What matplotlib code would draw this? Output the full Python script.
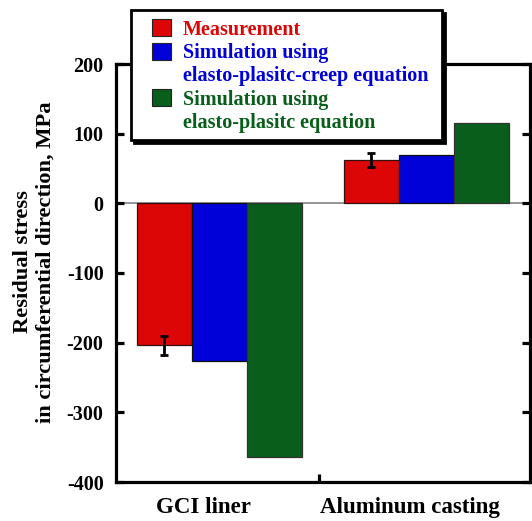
import numpy as np
import matplotlib
matplotlib.use("Agg")
import matplotlib.pyplot as plt
import matplotlib.patches as mpatches

plt.rcParams['font.family'] = ['Liberation Serif', 'DejaVu Serif']
plt.rcParams['font.weight'] = 'bold'
plt.rcParams['axes.unicode_minus'] = False

# data
groups = ["GCI liner", "Aluminum casting"]
measurement = [-204, 62]
measurement_err = [14, 10]
sim_creep = [-226, 69]
sim_plastic = [-364, 115]

colors = ['#dd0606', '#0000d8', '#085e1a']

x = np.arange(len(groups))
w = 0.267
W, H = 532, 521

fig = plt.figure(figsize=(W/100, H/100), dpi=100)
ax = fig.add_axes([116/W, 1 - 482/H, 414/W, 418/H])

ax.axhline(0, color='0.55', lw=1.3, zorder=1)
ax.bar(x - w, measurement, w, color=colors[0], edgecolor='#301010', lw=0.9, zorder=2)
ax.bar(x, sim_creep, w, color=colors[1], edgecolor='#101010', lw=0.9, zorder=2)
ax.bar(x + w, sim_plastic, w, color=colors[2], edgecolor='#303030', lw=0.9, zorder=2)
ax.errorbar(x - w, measurement, yerr=measurement_err, fmt='none', ecolor='k',
            elinewidth=2, capsize=3, capthick=2, zorder=3)

ax.set_xlim(-0.5, 1.5)
ax.set_ylim(-400, 200)
ax.set_yticks(np.arange(-400, 201, 100))
ax.set_xticks([0.48])
ax.set_xticklabels([])
for s in ax.spines.values():
    s.set_linewidth(2.3)
ax.tick_params(axis='y', direction='in', length=6, width=2.3, right=True,
               labelsize=14.5, pad=9)
ax.tick_params(axis='x', direction='in', length=6, width=2.3)

for xi, name in zip(x, groups):
    ax.text(xi - 0.08, -0.06, name, transform=ax.get_xaxis_transform(),
            ha='center', va='center', fontsize=16.5, fontweight='bold')

ax.set_ylabel("Residual stress\nin circumferential direction, MPa",
              fontsize=16.2, fontweight='bold', labelpad=8, linespacing=1.2)
ax.yaxis.label.set_y(0.527)

# legend frame with solid black drop shadow
x0, y0, x1, y1 = 131, 10, 442, 140
shadow = mpatches.Rectangle((x0/W + 3/W, 1 - y1/H - 3/H), (x1 - x0)/W, (y1 - y0)/H,
                            transform=fig.transFigure, facecolor='black',
                            edgecolor='black', lw=2, zorder=3)
frame = mpatches.Rectangle((x0/W, 1 - y1/H), (x1 - x0)/W, (y1 - y0)/H,
                           transform=fig.transFigure, facecolor='white',
                           edgecolor='black', lw=2, zorder=3.1)
fig.patches.extend([shadow, frame])

blank = mpatches.Patch(facecolor='none', edgecolor='none')
handles = [mpatches.Patch(facecolor=colors[0], edgecolor='#222222', lw=0.8),
           mpatches.Patch(facecolor=colors[1], edgecolor='#222222', lw=0.8),
           blank,
           mpatches.Patch(facecolor=colors[2], edgecolor='#222222', lw=0.8),
           blank]
labels = ["Measurement", "Simulation using", "elasto-plasitc-creep equation",
          "Simulation using", "elasto-plasitc equation"]
lab_colors = [colors[0], colors[1], colors[1], colors[2], colors[2]]

leg = fig.legend(handles, labels, loc='upper left',
                 bbox_to_anchor=(141/W, 1 - 8/H), bbox_transform=fig.transFigure,
                 borderaxespad=0, frameon=False,
                 prop={'size': 14.5, 'weight': 'bold'},
                 labelcolor=lab_colors, handlelength=0.92, handleheight=0.92,
                 handletextpad=0.62, labelspacing=0.15, borderpad=0.55)
leg.set_zorder(5)

fig.savefig('out.png', dpi=100)
